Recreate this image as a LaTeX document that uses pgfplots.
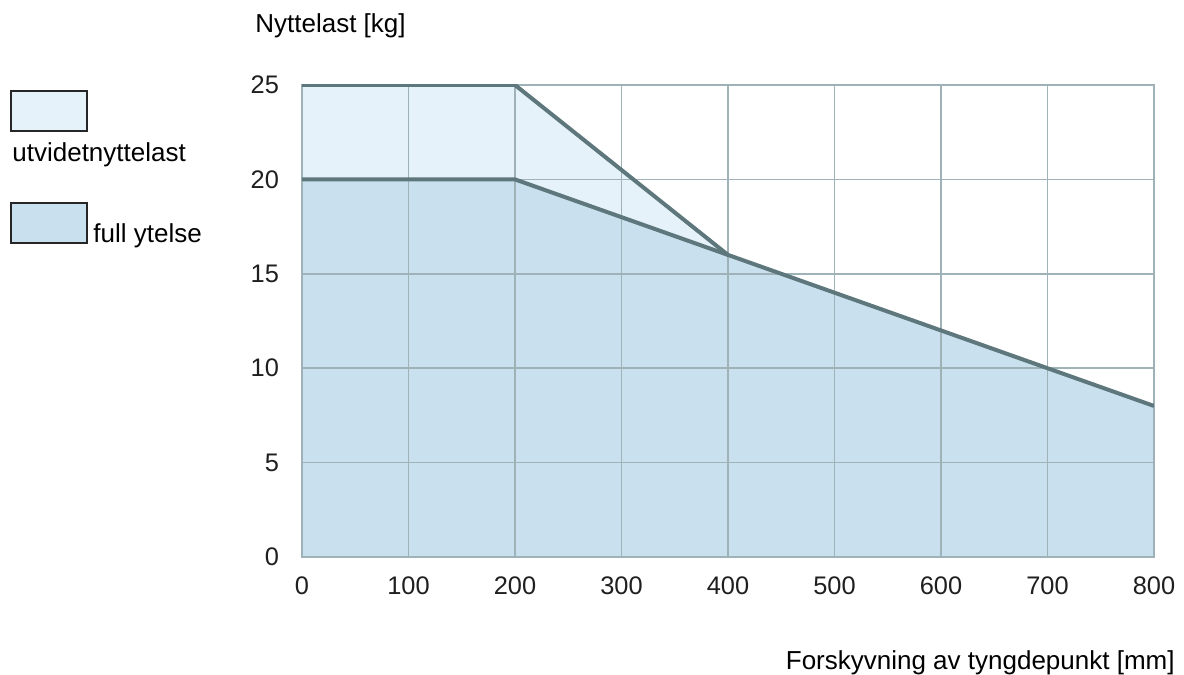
\documentclass[border=0pt]{standalone}
\usepackage{fontspec}
\setmainfont{Liberation Sans}
\usepackage{pgfplots}
\pgfplotsset{compat=1.18}
\definecolor{gridc}{HTML}{9FB2B7}
\definecolor{linec}{HTML}{5E777C}
\definecolor{fullc}{HTML}{C9E1EE}
\definecolor{extc}{HTML}{E6F2F9}
\begin{document}
\begin{tikzpicture}
\begin{axis}[
  set layers=standard,
  at={(0,0)}, anchor=south west,
  scale only axis, width=426pt, height=236pt,
  xmin=0, xmax=800, ymin=0, ymax=25,
  xtick={0,100,...,800}, ytick={0,5,...,25},
  grid=major, major grid style={gridc, line width=0.75pt},
  axis line style={gridc, line width=0.75pt},
  major tick length=0pt,
  tick label style={font=\fontsize{12.7}{14}\selectfont, text=black!88},
  /pgf/number format/assume math mode=true,
  xticklabel style={yshift=-6.5pt},
  yticklabel style={xshift=-8pt},
]
% areas below the curves
\addplot[fill=extc, draw=none, on layer=axis background]
  coordinates {(0,25)(200,25)(400,16)} \closedcycle;
\addplot[fill=fullc, draw=none, on layer=axis background]
  coordinates {(0,20)(200,20)(400,16)(800,8)} \closedcycle;
% limit lines
\addplot[linec, line width=2pt] coordinates {(0,25)(200,25)(400,16)};
\addplot[linec, line width=2pt] coordinates {(0,20)(200,20)(400,16)(800,8)};
\end{axis}
% legend
\draw[black!85, line width=0.7pt, fill=extc] (-145.5pt,213pt) rectangle (-107.5pt,233pt);
\node[anchor=base west, inner sep=0, font=\fontsize{13}{15}\selectfont] at (-145pt,197.5pt) {utvidetnyttelast};
\draw[black!85, line width=0.7pt, fill=fullc] (-145.5pt,157pt) rectangle (-107.5pt,177pt);
\node[anchor=base west, inner sep=0, font=\fontsize{13}{15}\selectfont] at (-104.5pt,157pt) {full ytelse};
% axis titles
\node[anchor=base west, inner sep=0, font=\fontsize{13}{15}\selectfont] at (-23.5pt,262pt) {Nyttelast [kg]};
\node[anchor=base east, inner sep=0, font=\fontsize{13}{15}\selectfont] at (436.5pt,-56pt) {Forskyvning av tyngdepunkt [mm]};
% page frame
\path (-151pt,-59pt) rectangle (441pt,278.5pt);
\end{tikzpicture}
\end{document}
